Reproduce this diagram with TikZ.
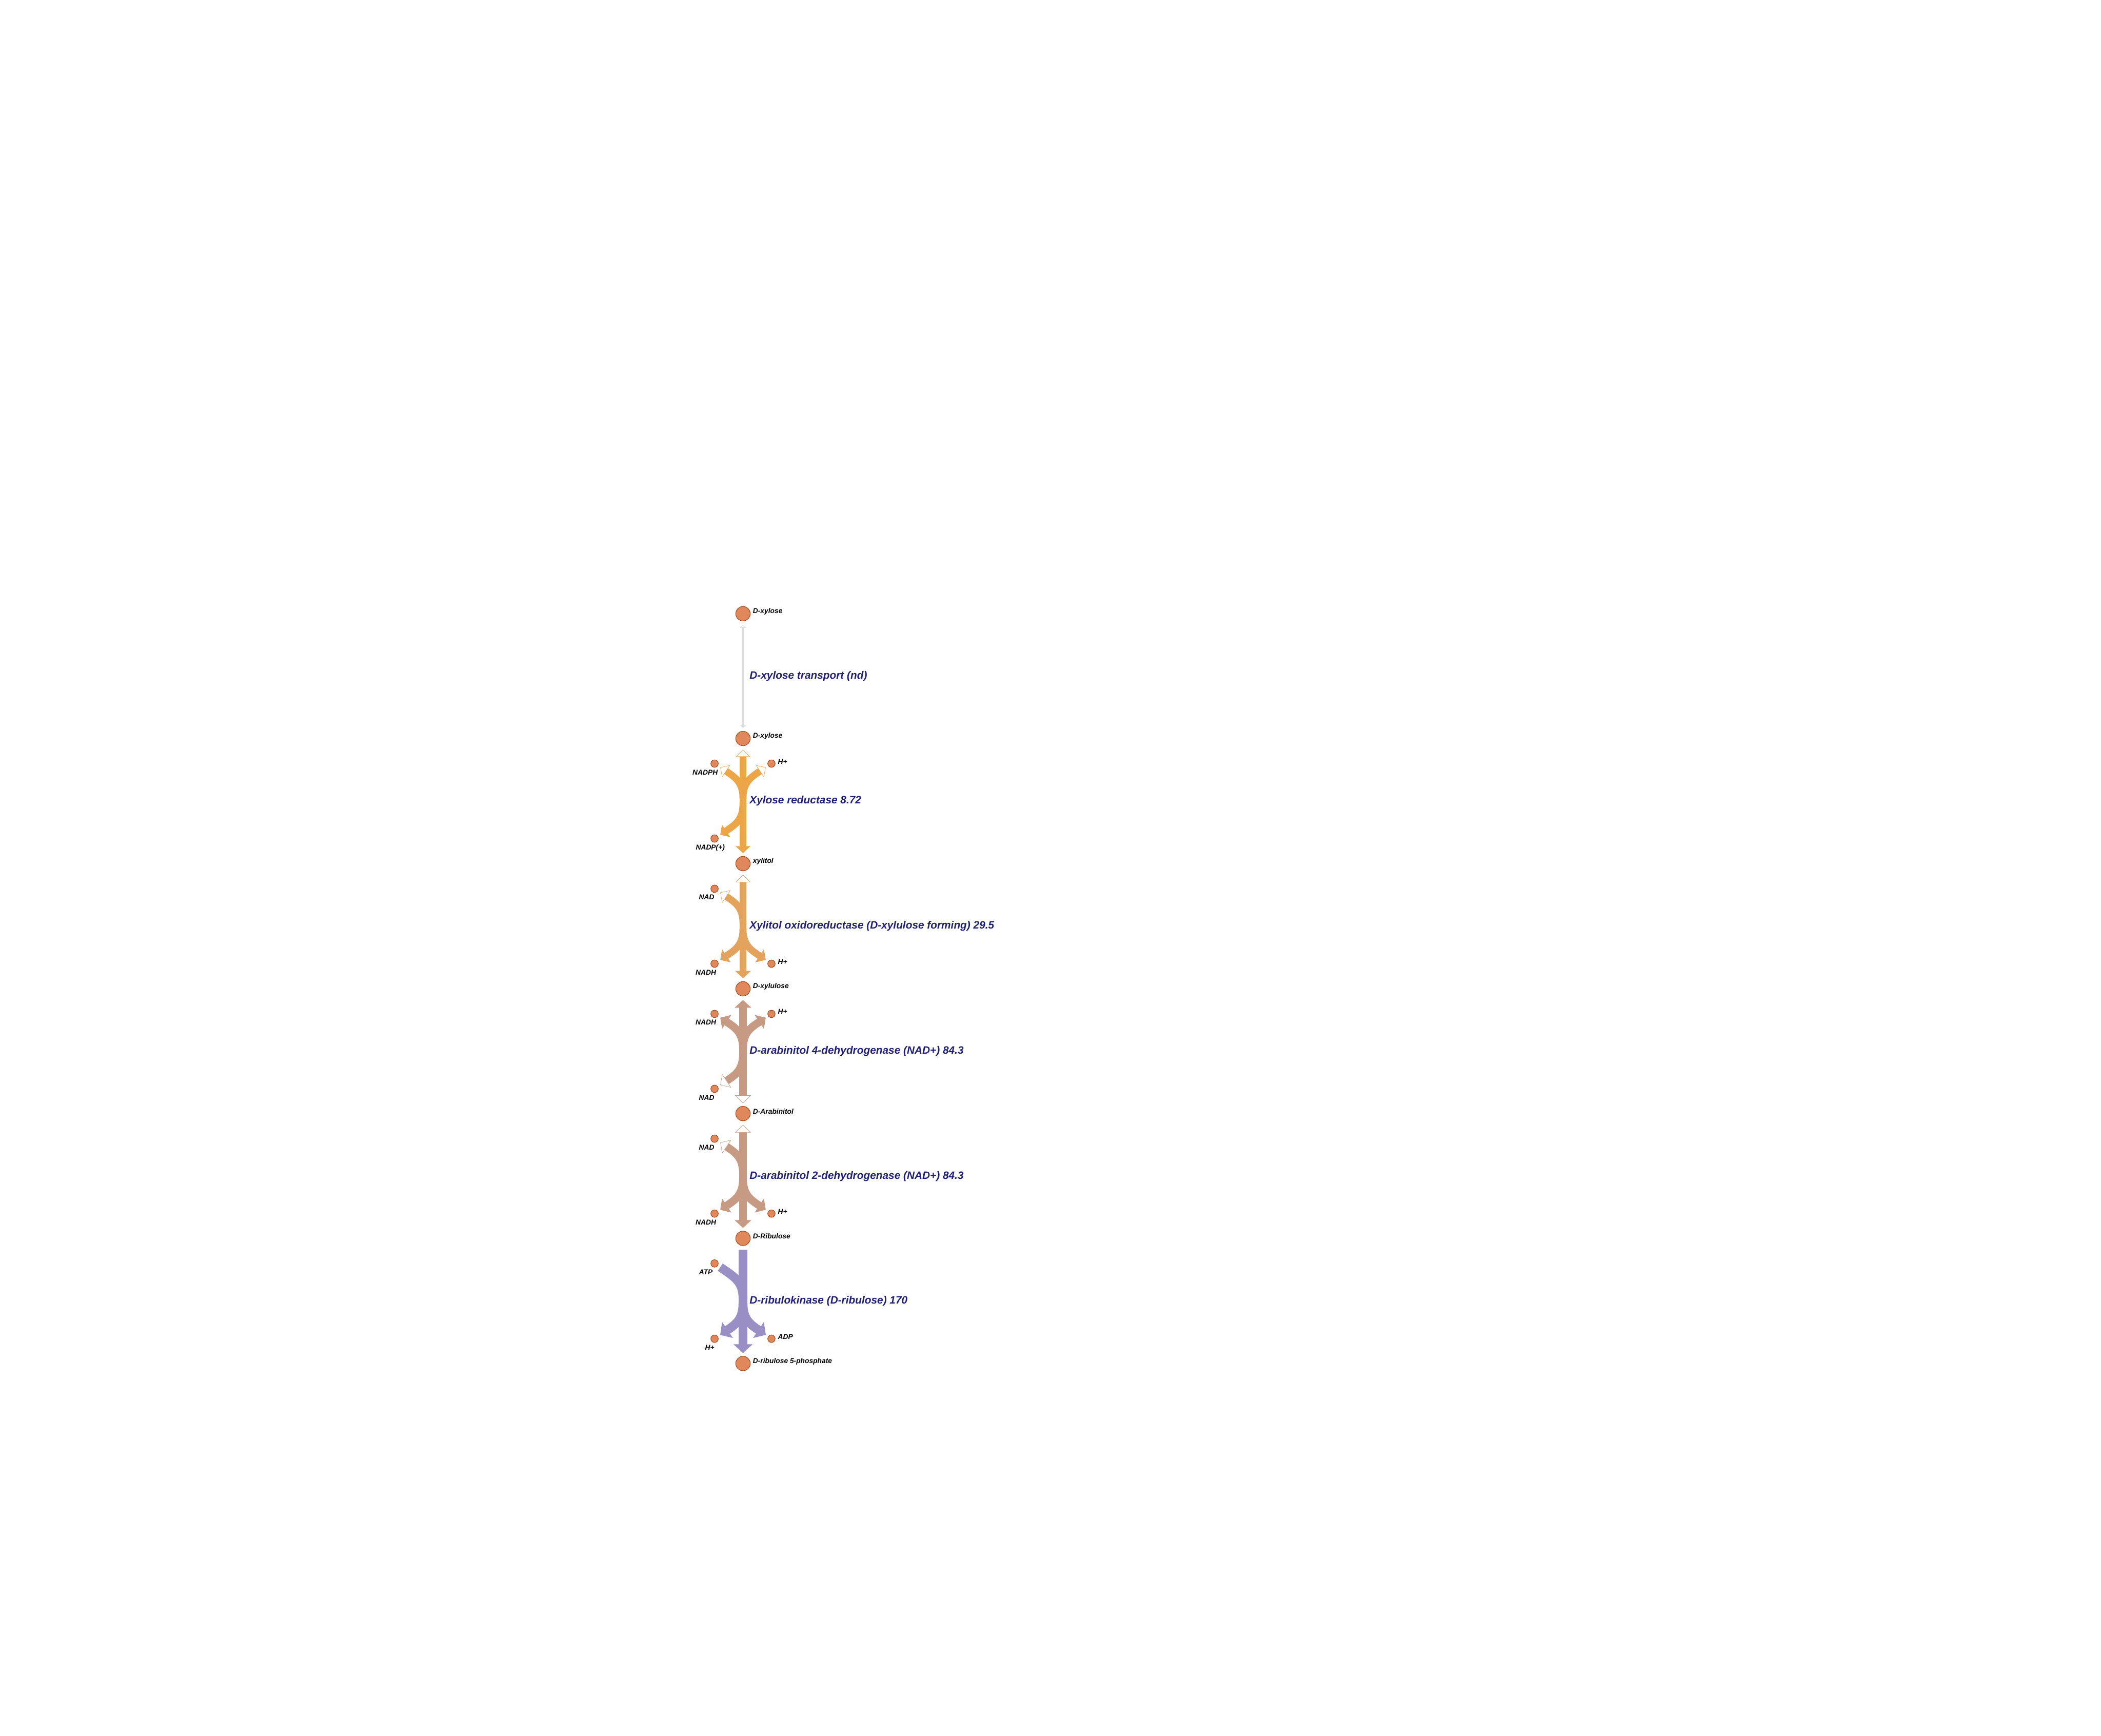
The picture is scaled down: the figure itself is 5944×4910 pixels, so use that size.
\documentclass[tikz,border=0pt]{standalone}
\usepackage{fontspec}
\setmainfont{Liberation Sans}
\usepackage{tikz}
\usetikzlibrary{arrows.meta,positioning}
\definecolor{metfill}{HTML}{E0885B}
\definecolor{metedge}{HTML}{A2481D}
\definecolor{rxnnavy}{HTML}{1F1F78}
\definecolor{fluxorange}{HTML}{EDA647}
\definecolor{fluxamber}{HTML}{E3A35D}
\definecolor{fluxtan}{HTML}{C79A83}
\definecolor{fluxlilac}{HTML}{9A8FC4}
\definecolor{fluxgray}{HTML}{DCDCDC}

\begin{document}
\begin{tikzpicture}[x=0.1mm, y=-0.1mm,
  met/.style={circle, draw=metedge, fill=metfill, line width=0.45pt, inner sep=0pt, minimum size=4.1mm},
  cofac/.style={met, minimum size=2.1mm},
  metname/.style={inner sep=0pt, font=\fontsize{5.7}{6.5}\selectfont\bfseries\itshape},
  rxnname/.style={inner sep=0pt, anchor=west, text=rxnnavy, font=\fontsize{8.6}{10}\selectfont\bfseries\itshape},
  endF/.style 2 args={arrows={-Triangle[width=#1,length=#2]}},
  endR/.style 2 args={arrows={-Triangle[fill=white,line width=0.3pt,width=#1,length=#2]}},
  bothRF/.style 2 args={arrows={Triangle[fill=white,line width=0.3pt,width=#1,length=#2]-Triangle[width=#1,length=#2]}},
  bothFR/.style 2 args={arrows={Triangle[width=#1,length=#2]-Triangle[fill=white,line width=0.3pt,width=#1,length=#2]}},
  rxngap/.style={shorten <=1.03mm, shorten >=0.83mm},
  sidegap/.style={shorten >=0.8mm},
  xr/.style={draw=fluxorange, line width=1.96mm},
  xdh/.style={draw=fluxamber, line width=1.96mm},
  adh/.style={draw=fluxtan, line width=2.2mm},
  rbk/.style={draw=fluxlilac, line width=2.5mm}]
  \path[use as bounding box, fill=white] (0,0) rectangle (5944,4910);

  \node[met] (xyl0) at (2102,1736) {};
  \node[met] (xyl1) at (2102,2089) {};
  \node[met] (xoh) at (2102,2443) {};
  \node[met] (xul) at (2102,2797) {};
  \node[met] (arab) at (2102,3150) {};
  \node[met] (rib) at (2102,3503) {};
  \node[met] (r5p) at (2102,3857) {};
  \node[metname, right=0.62mm of xyl0, yshift=0.6mm] (xyl0t) {D-xylose};
  \node[metname, right=0.62mm of xyl1, yshift=0.6mm] (xyl1t) {D-xylose};
  \node[metname, right=0.62mm of xoh, yshift=0.6mm] (xoht) {xylitol};
  \node[metname, right=0.62mm of xul, yshift=0.6mm] (xult) {D-xylulose};
  \node[metname, right=0.62mm of arab, yshift=0.6mm] (arabt) {D-Arabinitol};
  \node[metname, right=0.62mm of rib, yshift=0.6mm] (ribt) {D-Ribulose};
  \node[metname, right=0.62mm of r5p, yshift=0.6mm] (r5pt) {D-ribulose 5-phosphate};

  \node[cofac] (nadph) at (2021.5,2160) {};
  \node[cofac] (hp1) at (2182.5,2160) {};
  \node[cofac] (nadp) at (2021.5,2372) {};
  \node[cofac] (nad2) at (2021.5,2514) {};
  \node[cofac] (nadh2) at (2021.5,2726) {};
  \node[cofac] (hp2) at (2182.5,2726) {};
  \node[cofac] (nadh3) at (2021.5,2868) {};
  \node[cofac] (hp3) at (2182.5,2868) {};
  \node[cofac] (nad3) at (2021.5,3080) {};
  \node[cofac] (nad4) at (2021.5,3221) {};
  \node[cofac] (nadh4) at (2021.5,3433) {};
  \node[cofac] (hp4) at (2182.5,3433) {};
  \node[cofac] (atp) at (2021.5,3574) {};
  \node[cofac] (hp5) at (2021.5,3787) {};
  \node[cofac] (adp) at (2182.5,3787) {};
  \node[metname, below=0.55mm of nadph, xshift=-2.65mm] (nadpht) {NADPH};
  \node[metname, right=0.65mm of hp1, yshift=0.6mm] (hp1t) {H+};
  \node[metname, below=0.55mm of nadp, xshift=-1.2mm] (nadpt) {NADP(+)};
  \node[metname, below=0.55mm of nad2, xshift=-2.25mm] (nad2t) {NAD};
  \node[metname, below=0.55mm of nadh2, xshift=-2.45mm] (nadh2t) {NADH};
  \node[metname, right=0.65mm of hp2, yshift=0.6mm] (hp2t) {H+};
  \node[metname, below=0.55mm of nadh3, xshift=-2.45mm] (nadh3t) {NADH};
  \node[metname, right=0.65mm of hp3, yshift=0.6mm] (hp3t) {H+};
  \node[metname, below=0.55mm of nad3, xshift=-2.25mm] (nad3t) {NAD};
  \node[metname, below=0.55mm of nad4, xshift=-2.25mm] (nad4t) {NAD};
  \node[metname, below=0.55mm of nadh4, xshift=-2.45mm] (nadh4t) {NADH};
  \node[metname, right=0.65mm of hp4, yshift=0.6mm] (hp4t) {H+};
  \node[metname, below=0.55mm of atp, xshift=-2.45mm] (atpt) {ATP};
  \node[metname, below=0.55mm of hp5, xshift=-1.35mm] (hp5t) {H+};
  \node[metname, right=0.65mm of adp, yshift=0.6mm] (adpt) {ADP};

  \draw[fluxgray, line width=0.71mm, rxngap, bothRF={1.7mm}{0.83mm}] (xyl0) -- (xyl1);
  \node[rxnname] (trt) at (2120,1913) {D-xylose transport (nd)};

  \coordinate (xrup) at (2102,2259);
  \coordinate (xrlo) at (2102,2273);
  \draw[xr, endR={4.1mm}{2mm}, sidegap] (xrup) .. controls (2102,2214) and (2082,2200) .. (nadph);
  \draw[xr, endR={4.1mm}{2mm}, sidegap] (xrup) .. controls (2102,2214) and (2122,2200) .. (hp1);
  \draw[xr, endF={4.1mm}{2mm}, sidegap] (xrlo) .. controls (2102,2318) and (2082,2332) .. (nadp);
  \draw[xr, bothRF={4.1mm}{2mm}, rxngap] (xyl1) -- (xoh);
  \node[rxnname] (xrt) at (2120,2266) {Xylose reductase 8.72};

  \coordinate (xdhup) at (2102,2613);
  \coordinate (xdhlo) at (2102,2627);
  \draw[xdh, endR={4.3mm}{2.1mm}, sidegap] (xdhup) .. controls (2102,2568) and (2082,2554) .. (nad2);
  \draw[xdh, endF={4.3mm}{2.1mm}, sidegap] (xdhlo) .. controls (2102,2672) and (2082,2686) .. (nadh2);
  \draw[xdh, endF={4.3mm}{2.1mm}, sidegap] (xdhlo) .. controls (2102,2672) and (2122,2686) .. (hp2);
  \draw[xdh, bothRF={4.3mm}{2.1mm}, rxngap] (xoh) -- (xul);
  \node[rxnname] (xdht) at (2120,2620) {Xylitol oxidoreductase (D-xylulose forming) 29.5};

  \coordinate (ad4up) at (2102,2967);
  \coordinate (ad4lo) at (2102,2981);
  \draw[adh, endF={4.6mm}{2.2mm}, sidegap] (ad4up) .. controls (2102,2922) and (2082,2908) .. (nadh3);
  \draw[adh, endF={4.6mm}{2.2mm}, sidegap] (ad4up) .. controls (2102,2922) and (2122,2908) .. (hp3);
  \draw[adh, endR={4.6mm}{2.2mm}, sidegap] (ad4lo) .. controls (2102,3026) and (2082,3040) .. (nad3);
  \draw[adh, bothFR={4.6mm}{2.2mm}, rxngap] (xul) -- (arab);
  \node[rxnname] (ad4t) at (2120,2974) {D-arabinitol 4-dehydrogenase (NAD+) 84.3};

  \coordinate (ad2up) at (2102,3320);
  \coordinate (ad2lo) at (2102,3334);
  \draw[adh, endR={4.6mm}{2.2mm}, sidegap] (ad2up) .. controls (2102,3275) and (2082,3261) .. (nad4);
  \draw[adh, endF={4.6mm}{2.2mm}, sidegap] (ad2lo) .. controls (2102,3379) and (2082,3393) .. (nadh4);
  \draw[adh, endF={4.6mm}{2.2mm}, sidegap] (ad2lo) .. controls (2102,3379) and (2122,3393) .. (hp4);
  \draw[adh, bothRF={4.6mm}{2.2mm}, rxngap] (arab) -- (rib);
  \node[rxnname] (ad2t) at (2120,3327) {D-arabinitol 2-dehydrogenase (NAD+) 84.3};

  \coordinate (rbkup) at (2102,3673);
  \coordinate (rbklo) at (2102,3687);
  \draw[rbk, sidegap] (rbkup) .. controls (2102,3628) and (2082,3614) .. (atp);
  \draw[rbk, endF={5.3mm}{2.5mm}, sidegap] (rbklo) .. controls (2102,3732) and (2082,3746) .. (hp5);
  \draw[rbk, endF={5.3mm}{2.5mm}, sidegap] (rbklo) .. controls (2102,3732) and (2122,3746) .. (adp);
  \draw[rbk, endF={5.3mm}{2.5mm}, rxngap] (rib) -- (r5p);
  \node[rxnname] (rbkt) at (2120,3680) {D-ribulokinase (D-ribulose) 170};
\end{tikzpicture}
\end{document}
